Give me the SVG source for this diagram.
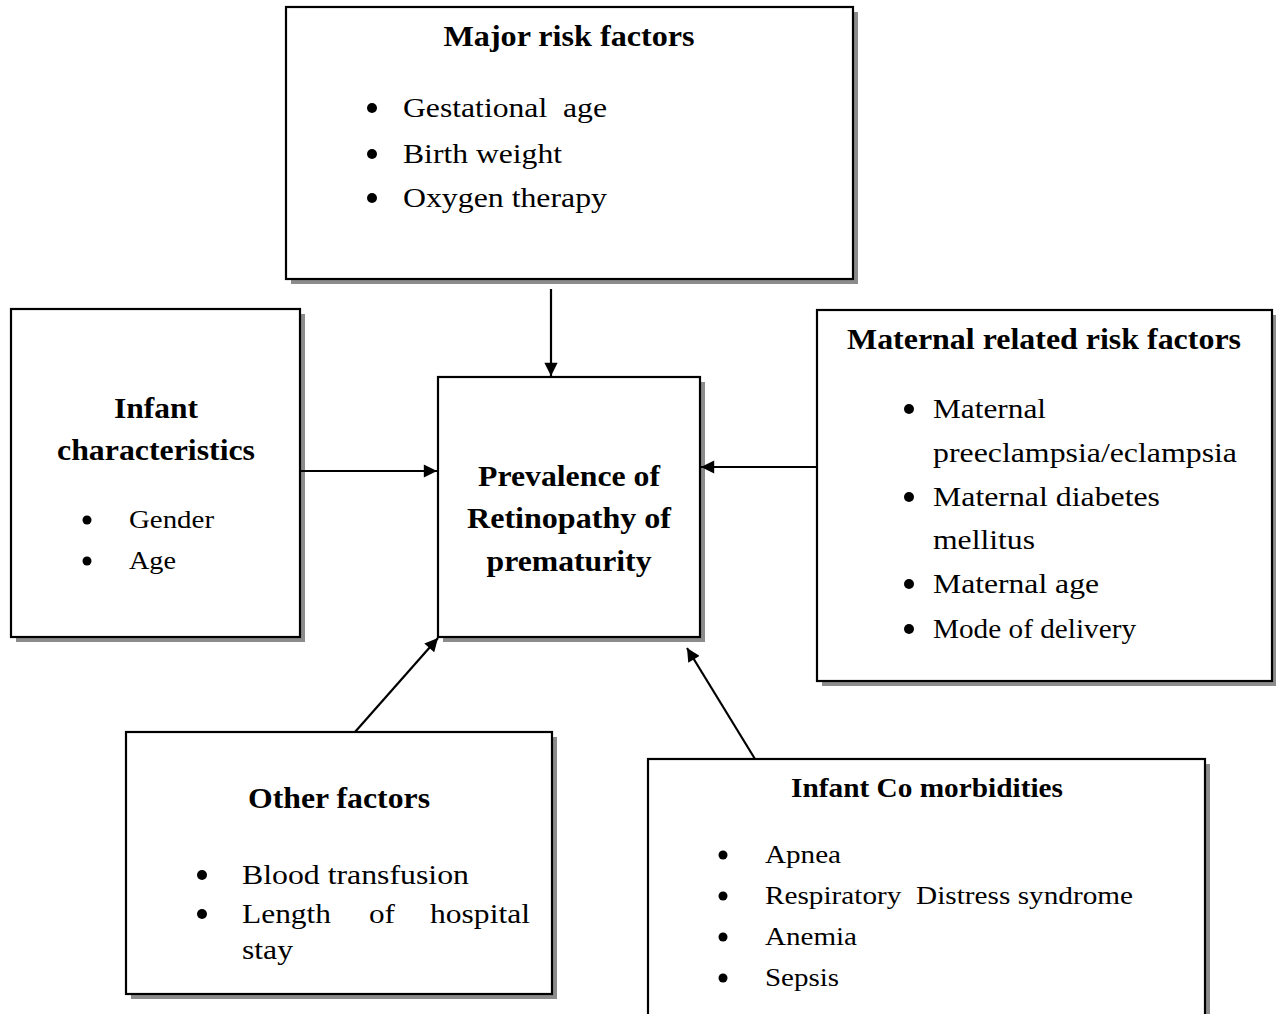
<svg xmlns="http://www.w3.org/2000/svg" width="1276" height="1014" viewBox="0 0 1276 1014">
<defs>
<style>
.sh{fill:#8c8c8c}
.bx{fill:#fff;stroke:#000;stroke-width:2.2}
text{font-family:"Liberation Serif","Times New Roman",serif;fill:#000}
.t{font-weight:bold;font-size:30px;text-anchor:middle}
.i{font-size:28px}
.s{font-size:25px}
.c{stroke:#000;stroke-width:2.2;fill:none;marker-end:url(#ah)}
</style>
<marker id="ah" viewBox="0 0 10 10" refX="10" refY="5" markerWidth="6.5" markerHeight="6" markerUnits="strokeWidth" orient="auto">
<path d="M0,0 L10,5 L0,10 z" fill="#000"/>
</marker>
</defs>
<rect width="1276" height="1014" fill="#fff"/>
<g id="major">
<rect class="sh" x="291" y="12" width="567" height="272"/>
<rect class="bx" x="286" y="7" width="567" height="272"/>
<text class="t" x="569" y="46" textLength="251" lengthAdjust="spacingAndGlyphs">Major risk factors</text>
<circle cx="372" cy="108" r="5"/><text class="i" x="403" y="117" xml:space="preserve" textLength="204" lengthAdjust="spacingAndGlyphs">Gestational  age</text>
<circle cx="372" cy="154" r="5"/><text class="i" x="403" y="163" textLength="159" lengthAdjust="spacingAndGlyphs">Birth weight</text>
<circle cx="372" cy="198" r="5"/><text class="i" x="403" y="207" textLength="204" lengthAdjust="spacingAndGlyphs">Oxygen therapy</text>
</g>
<g id="infant">
<rect class="sh" x="16" y="314" width="289" height="328"/>
<rect class="bx" x="11" y="309" width="289" height="328"/>
<text class="t" x="156" y="418" textLength="84" lengthAdjust="spacingAndGlyphs">Infant</text>
<text class="t" x="156" y="460" textLength="198" lengthAdjust="spacingAndGlyphs">characteristics</text>
<circle cx="87" cy="520" r="4.5"/><text class="s" x="129" y="528" textLength="85" lengthAdjust="spacingAndGlyphs">Gender</text>
<circle cx="87" cy="561" r="4.5"/><text class="s" x="129" y="569" textLength="47" lengthAdjust="spacingAndGlyphs">Age</text>
</g>
<g id="center">
<rect class="sh" x="443" y="382" width="262" height="260"/>
<rect class="bx" x="438" y="377" width="262" height="260"/>
<text class="t" x="569" y="486" textLength="182" lengthAdjust="spacingAndGlyphs">Prevalence of</text>
<text class="t" x="569" y="528" textLength="204" lengthAdjust="spacingAndGlyphs">Retinopathy of</text>
<text class="t" x="569" y="571" textLength="165" lengthAdjust="spacingAndGlyphs">prematurity</text>
</g>
<g id="maternal">
<rect class="sh" x="822" y="315" width="455" height="371"/>
<rect class="bx" x="817" y="310" width="455" height="371"/>
<text class="t" x="1044" y="349" textLength="394" lengthAdjust="spacingAndGlyphs">Maternal related risk factors</text>
<circle cx="909" cy="409" r="5"/><text class="i" x="933" y="418" textLength="113" lengthAdjust="spacingAndGlyphs">Maternal</text>
<text class="i" x="933" y="462" textLength="304" lengthAdjust="spacingAndGlyphs">preeclampsia/eclampsia</text>
<circle cx="909" cy="497" r="5"/><text class="i" x="933" y="506" textLength="227" lengthAdjust="spacingAndGlyphs">Maternal diabetes</text>
<text class="i" x="933" y="549" textLength="102" lengthAdjust="spacingAndGlyphs">mellitus</text>
<circle cx="909" cy="584" r="5"/><text class="i" x="933" y="593" textLength="166" lengthAdjust="spacingAndGlyphs">Maternal age</text>
<circle cx="909" cy="629" r="5"/><text class="i" x="933" y="638" textLength="203" lengthAdjust="spacingAndGlyphs">Mode of delivery</text>
</g>
<g id="other">
<rect class="sh" x="131" y="737" width="426" height="262"/>
<rect class="bx" x="126" y="732" width="426" height="262"/>
<text class="t" x="339" y="808" textLength="182" lengthAdjust="spacingAndGlyphs">Other factors</text>
<circle cx="202" cy="875" r="5"/><text class="i" x="242" y="884" textLength="227" lengthAdjust="spacingAndGlyphs">Blood transfusion</text>
<circle cx="202" cy="914" r="5"/><text class="i" x="242" y="923" textLength="89" lengthAdjust="spacingAndGlyphs">Length</text>
<text class="i" x="369" y="923" textLength="26" lengthAdjust="spacingAndGlyphs">of</text>
<text class="i" x="430" y="923" textLength="100" lengthAdjust="spacingAndGlyphs">hospital</text>
<text class="i" x="242" y="959" textLength="51" lengthAdjust="spacingAndGlyphs">stay</text>
</g>
<g id="comorb">
<rect class="sh" x="653" y="764" width="557" height="260"/>
<rect class="bx" x="648" y="759" width="557" height="270"/>
<text class="t" x="927" y="797" style="font-size:27px" textLength="272" lengthAdjust="spacingAndGlyphs">Infant Co morbidities</text>
<circle cx="723" cy="855" r="4.5"/><text class="s" x="765" y="863" textLength="76" lengthAdjust="spacingAndGlyphs">Apnea</text>
<circle cx="723" cy="896" r="4.5"/><text class="s" x="765" y="904" xml:space="preserve" textLength="368" lengthAdjust="spacingAndGlyphs">Respiratory  Distress syndrome</text>
<circle cx="723" cy="937" r="4.5"/><text class="s" x="765" y="945" textLength="92" lengthAdjust="spacingAndGlyphs">Anemia</text>
<circle cx="723" cy="978" r="4.5"/><text class="s" x="765" y="986" textLength="74" lengthAdjust="spacingAndGlyphs">Sepsis</text>
</g>
<g id="connectors">
<line class="c" x1="551" y1="289" x2="551" y2="376"/>
<line class="c" x1="301" y1="471" x2="437" y2="471"/>
<line class="c" x1="816" y1="467" x2="701" y2="467"/>
<line class="c" x1="355" y1="732" x2="438" y2="638"/>
<line class="c" x1="755" y1="759" x2="687" y2="648"/>
</g>
</svg>
